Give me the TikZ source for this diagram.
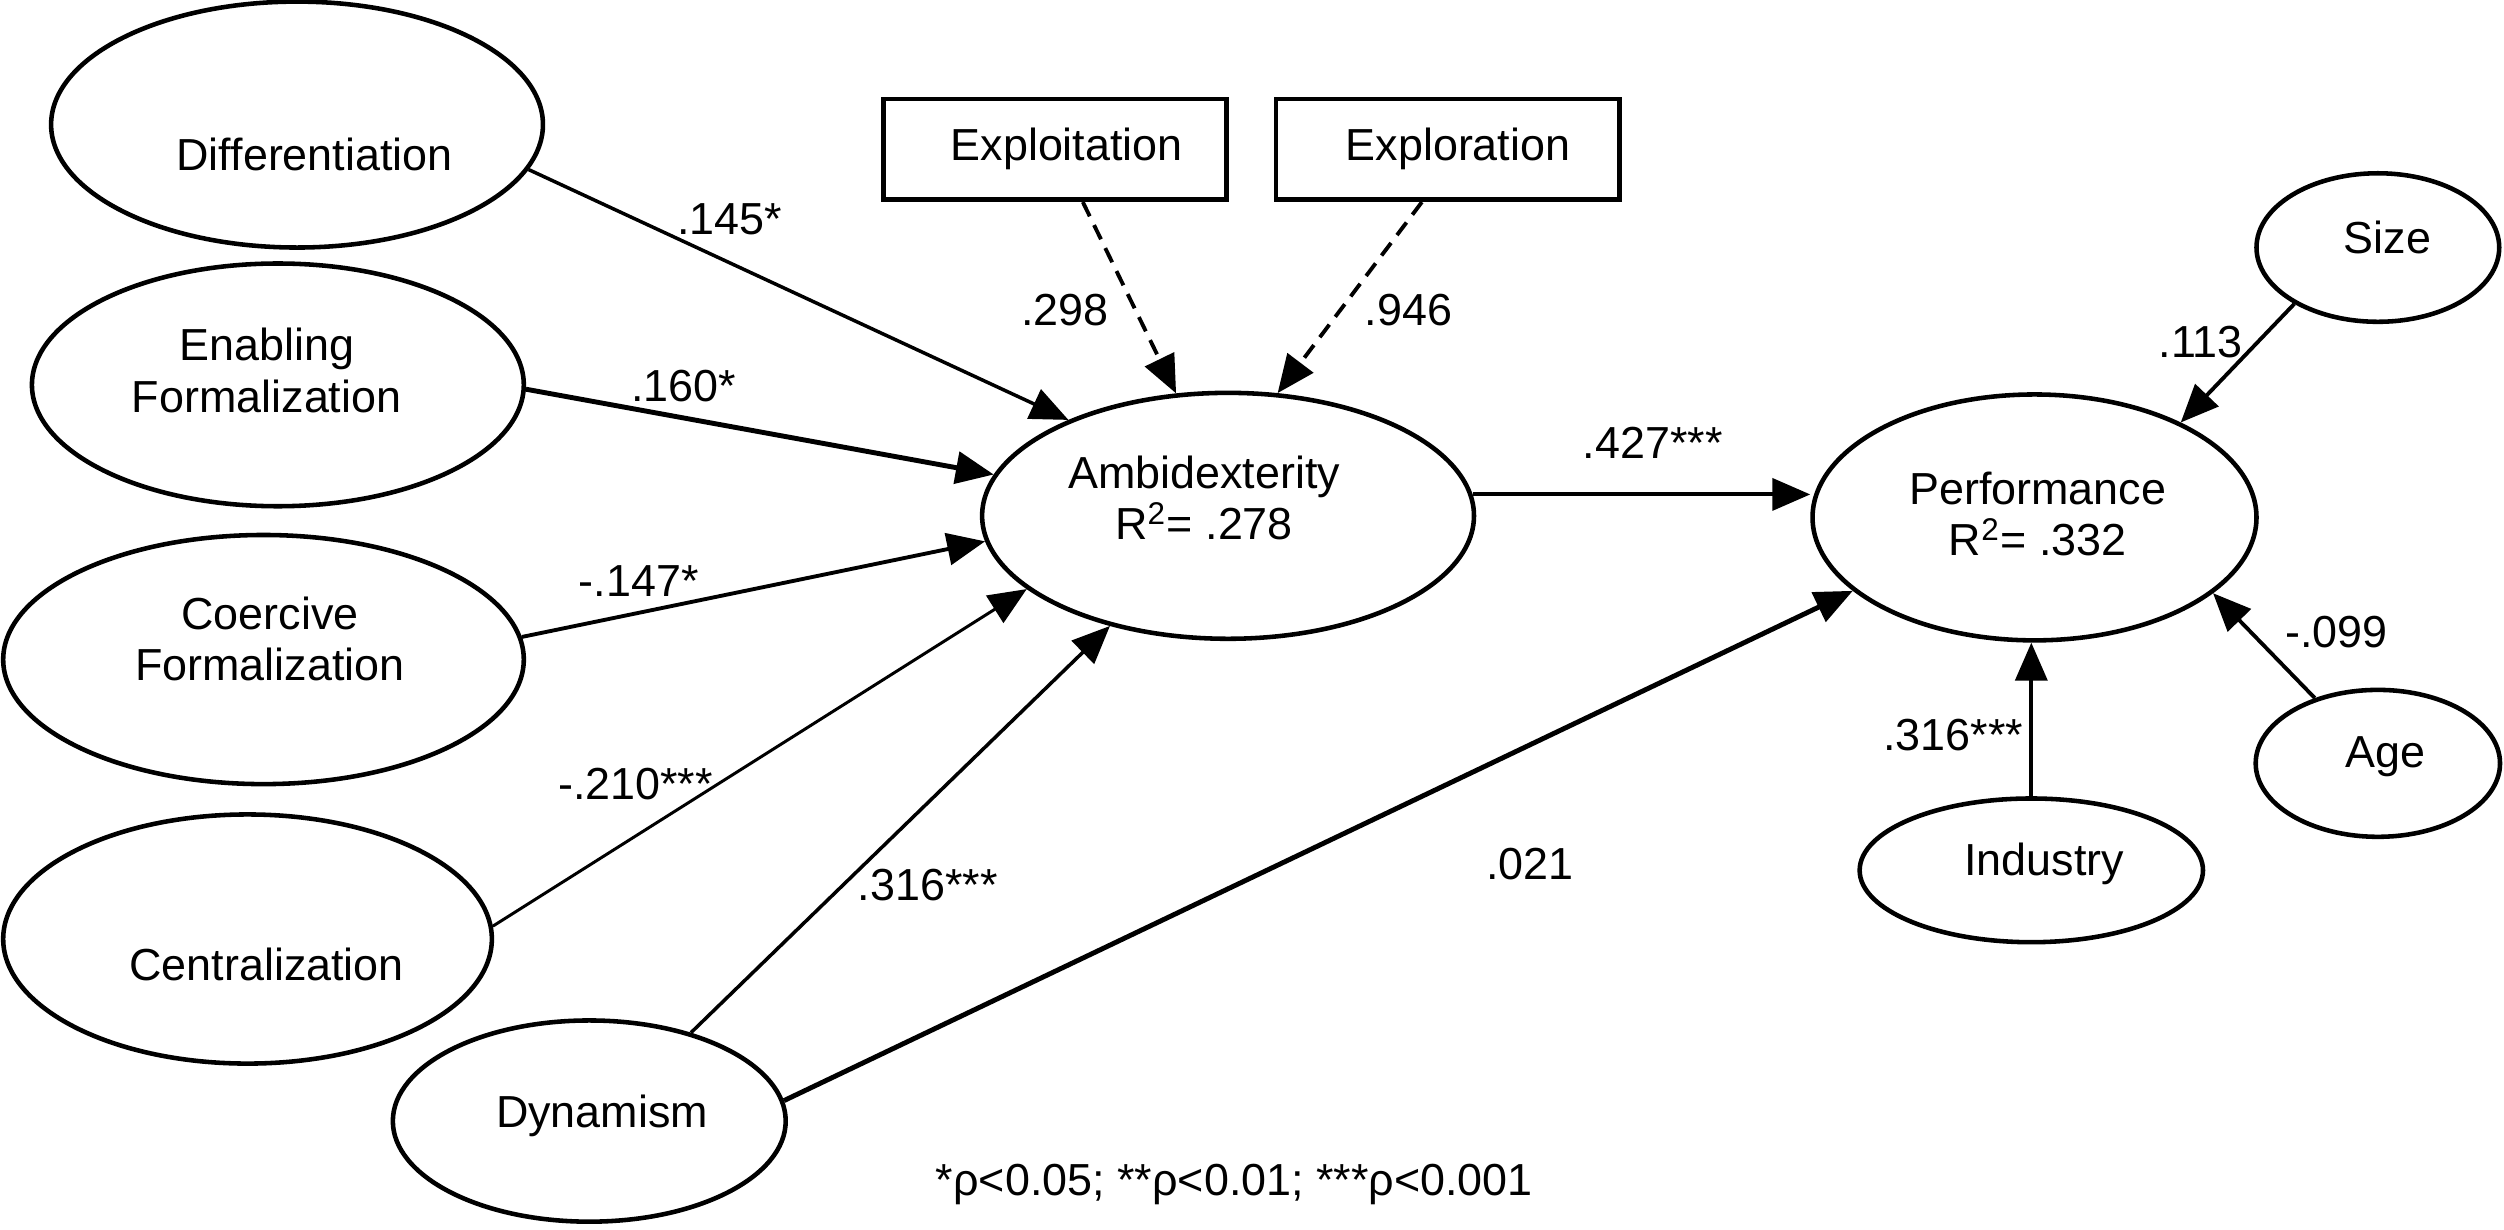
\documentclass[tikz,border=0pt]{standalone}
\usepackage{fontspec}
\setmainfont{Liberation Sans}
\usetikzlibrary{shapes.geometric,arrows.meta}

\tikzset{
  latent/.style={draw, ellipse, line width=1.3pt, inner sep=0pt},
  obsbox/.style={draw, rectangle, line width=1.4pt, inner sep=0pt},
  lbl/.style={font=\fontsize{12.8}{14.6}\selectfont, align=center, inner sep=0pt},
  arr/.style={-{Triangle[length=0.38cm,width=0.32cm]}, line width=1.1pt},
  darr/.style={arr, dash pattern=on 4.5pt off 2.8pt},
}

\begin{document}
\begin{tikzpicture}[x=0.016cm,y=-0.016cm]
\def\pxu{0.016cm}
\useasboundingbox (0,0) rectangle (1568,770);

% antecedents
\node[latent, minimum width=308*\pxu, minimum height=154*\pxu] (diff) at (186,78) {};
\node[latent, minimum width=308*\pxu, minimum height=152*\pxu] (enab) at (174,241) {};
\node[latent, minimum width=326*\pxu, minimum height=156*\pxu] (coer) at (165,413) {};
\node[latent, minimum width=306*\pxu, minimum height=156*\pxu] (cent) at (155,588) {};
\node[latent, minimum width=246*\pxu, minimum height=126*\pxu] (dyn) at (369,702) {};

\node[lbl] (diff-t) at (197,97) {Differentiation};
\node[lbl] (enab-t) at (167,232) {Enabling\\Formalization};
\node[lbl] (coer-t) at (169,400) {Coercive\\Formalization};
\node[lbl] (cent-t) at (167,604) {Centralization};
\node[lbl] (dyn-t) at (377,699) {Dynamism};

% mediator and its indicators
\node[latent, minimum width=308*\pxu, minimum height=154*\pxu] (amb) at (769,323) {};
\node[lbl] (amb-t) at (754,312) {Ambidexterity\\R\textsuperscript{2}= .278};
\node[obsbox, minimum width=215*\pxu, minimum height=63*\pxu] (expt) at (660.5,93.5) {};
\node[obsbox, minimum width=215*\pxu, minimum height=63*\pxu] (expr) at (906.5,93.5) {};
\node[lbl] (expt-t) at (668,93) {Exploitation};
\node[lbl] (expr-t) at (913,93) {Exploration};

% outcome and controls
\node[latent, minimum width=278*\pxu, minimum height=154*\pxu] (perf) at (1274,324) {};
\node[lbl] (perf-t) at (1276,322) {Performance\\R\textsuperscript{2}= .332};
\node[latent, minimum width=152*\pxu, minimum height=93*\pxu] (size) at (1489,155) {};
\node[latent, minimum width=153*\pxu, minimum height=92*\pxu] (age) at (1489,478) {};
\node[latent, minimum width=215*\pxu, minimum height=90*\pxu] (ind) at (1272,545) {};
\node[lbl] (size-t) at (1495,149) {Size};
\node[lbl] (age-t) at (1494,474) {Age};
\node[lbl] (ind-t) at (1280,541) {Industry};

% paths
\draw[arr, line width=1pt] (diff.-11.9) -- (amb.149.4);
\draw[arr, line width=1.4pt] (enab.-1.9) -- (amb.170.7);
\draw[arr] (coer.5) -- (amb.186.3);
\draw[arr, line width=0.85pt] (cent.3.7) -- (amb.200.8);
\draw[arr, line width=1pt] (dyn.41.1) -- (amb.223.3);
\draw[arr, line width=1.4pt] (dyn.6.6) -- (perf.202.6);
\draw[arr] (amb.5.6) -- (amb.5.6 -| perf.west);
\draw[darr] (expt.-62.4) -- (amb.113.2);
\draw[darr] (expr.-116.2) -- (amb.68.7);
\draw[arr] (size.214.4) -- (perf.33.4);
\draw[arr] (age.134.6) -- (perf.-23.6);
\draw[arr] (ind.north) -- (ind.north |- perf.south);

% coefficients
\node[lbl] (c-diff) at (457,137) {.145*};
\node[lbl] (c-enab) at (428,242) {.160*};
\node[lbl] (c-coer) at (400,364) {-.147*};
\node[lbl] (c-cent) at (398,491) {-.210***};
\node[lbl] (c-dyn) at (581,554) {.316***};
\node[lbl] (c-dynp) at (958,541) {.021};
\node[lbl] (c-expt) at (667,194) {.298};
\node[lbl] (c-expr) at (882,194) {.946};
\node[lbl] (c-amb) at (1035,277) {.427***};
\node[lbl] (c-size) at (1378,214) {.113};
\node[lbl] (c-age) at (1463,396) {-.099};
\node[lbl] (c-ind) at (1223,460) {.316***};

\node[lbl] (note) at (773,742) {*ρ<0.05; **ρ<0.01; ***ρ<0.001};
\end{tikzpicture}
\end{document}
